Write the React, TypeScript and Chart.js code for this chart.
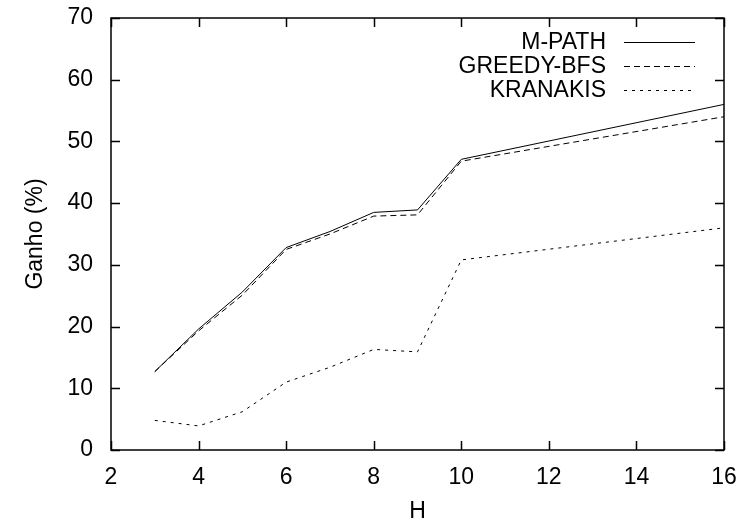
import React, { useEffect, useRef } from "react";
import { Chart, registerables } from "chart.js";

Chart.register(...registerables);

const hValues = [3, 4, 5, 6, 7, 8, 9, 10, 16];
const mPath = [12.7, 19.6, 25.6, 32.8, 35.4, 38.5, 38.9, 47.1, 56.0];
const greedyBfs = [12.7, 19.3, 25.1, 32.5, 35.0, 37.9, 38.1, 46.8, 54.0];
const kranakis = [4.8, 3.9, 6.2, 11.0, 13.4, 16.3, 15.9, 30.8, 36.0];

const seriesNames = ["M-PATH", "GREEDY-BFS", "KRANAKIS"];
const xTitle = "H";
const yTitle = "Ganho (%)";

const FONT = "'Liberation Sans', Arial, Helvetica, sans-serif";
const FS = 23;

const toPoints = (ys: number[]) => hValues.map((x, i) => ({ x, y: ys[i] }));

const framePlugin = {
  id: "frame",
  afterDraw(chart: any) {
    const { ctx, chartArea } = chart;
    const { left, right, top, bottom } = chartArea;
    const tl = 9;
    ctx.save();
    ctx.strokeStyle = "#000";
    ctx.lineWidth = 1.5;
    ctx.strokeRect(left, top, right - left, bottom - top);
    ctx.lineWidth = 1.5;
    const xs = chart.scales.x;
    const ys = chart.scales.y;
    ctx.beginPath();
    xs.ticks.forEach((t: any) => {
      const px = Math.round(xs.getPixelForValue(t.value)) + 0.5;
      ctx.moveTo(px, bottom);
      ctx.lineTo(px, bottom - tl);
      ctx.moveTo(px, top);
      ctx.lineTo(px, top + tl);
    });
    ys.ticks.forEach((t: any) => {
      const py = Math.round(ys.getPixelForValue(t.value)) + 0.5;
      ctx.moveTo(left, py);
      ctx.lineTo(left + tl, py);
      ctx.moveTo(right, py);
      ctx.lineTo(right - tl, py);
    });
    ctx.stroke();

    // legend (gnuplot style: right-aligned text, sample to its right)
    const textRight = 606;
    const sx0 = 624;
    const sx1 = 695;
    const y0 = 42;
    const dy = 24;
    ctx.font = `${FS}px ${FONT}`;
    ctx.textAlign = "right";
    ctx.textBaseline = "middle";
    ctx.fillStyle = "#000";
    chart.data.datasets.forEach((ds: any, i: number) => {
      const y = y0 + i * dy;
      ctx.fillText(ds.label, textRight, y + 1);
      ctx.beginPath();
      ctx.setLineDash(ds.borderDash || []);
      ctx.strokeStyle = ds.borderColor;
      ctx.lineWidth = ds.borderWidth;
      ctx.moveTo(sx0, y + 0.5);
      ctx.lineTo(sx1, y + 0.5);
      ctx.stroke();
    });
    ctx.setLineDash([]);
    ctx.restore();
  },
};

export default function App() {
  const ref = useRef<HTMLCanvasElement | null>(null);
  useEffect(() => {
    if (!ref.current) return;
    const chart = new Chart(ref.current, {
      type: "line",
      data: {
        datasets: [
          {
            label: seriesNames[0],
            data: toPoints(mPath),
            borderColor: "#000",
            borderWidth: 1,
            pointRadius: 0,
            tension: 0,
          },
          {
            label: seriesNames[1],
            data: toPoints(greedyBfs),
            borderColor: "#000",
            borderWidth: 1,
            borderDash: [6, 4],
            pointRadius: 0,
            tension: 0,
          },
          {
            label: seriesNames[2],
            data: toPoints(kranakis),
            borderColor: "#000",
            borderWidth: 1,
            borderDash: [3, 5],
            pointRadius: 0,
            tension: 0,
          },
        ],
      },
      options: {
        animation: false,
        responsive: false,
        layout: { padding: { top: 18, right: 20, left: 0, bottom: 0 } },
        plugins: { legend: { display: false }, tooltip: { enabled: false } },
        scales: {
          x: {
            type: "linear",
            min: 2,
            max: 16,
            ticks: {
              stepSize: 2,
              color: "#000",
              font: { family: FONT, size: FS },
              padding: 6,
              maxRotation: 0,
            },
            grid: { display: false },
            border: { display: false },
            title: {
              display: true,
              text: xTitle,
              color: "#000",
              font: { family: FONT, size: FS },
              padding: { top: 0, bottom: 2 },
            },
            afterFit(scale: any) {
              scale.height = 77;
              scale.paddingLeft = 0;
              scale.paddingRight = 0;
            },
          },
          y: {
            type: "linear",
            min: 0,
            max: 70,
            ticks: {
              stepSize: 10,
              color: "#000",
              font: { family: FONT, size: FS },
              padding: 10,
            },
            grid: { display: false },
            border: { display: false },
            title: {
              display: true,
              text: yTitle,
              color: "#000",
              font: { family: FONT, size: FS },
              padding: { top: 22, bottom: 0 },
            },
            afterFit(scale: any) {
              scale.width = 111;
              scale.paddingTop = 0;
              scale.paddingBottom = 0;
            },
          },
        },
      },
      plugins: [framePlugin],
    } as any);
    return () => chart.destroy();
  }, []);
  return (
    <div style={{ position: "fixed", left: 0, top: 0, width: 744, height: 527, background: "#fff" }}>
      <canvas ref={ref} width={744} height={527} style={{ display: "block" }} />
    </div>
  );
}
